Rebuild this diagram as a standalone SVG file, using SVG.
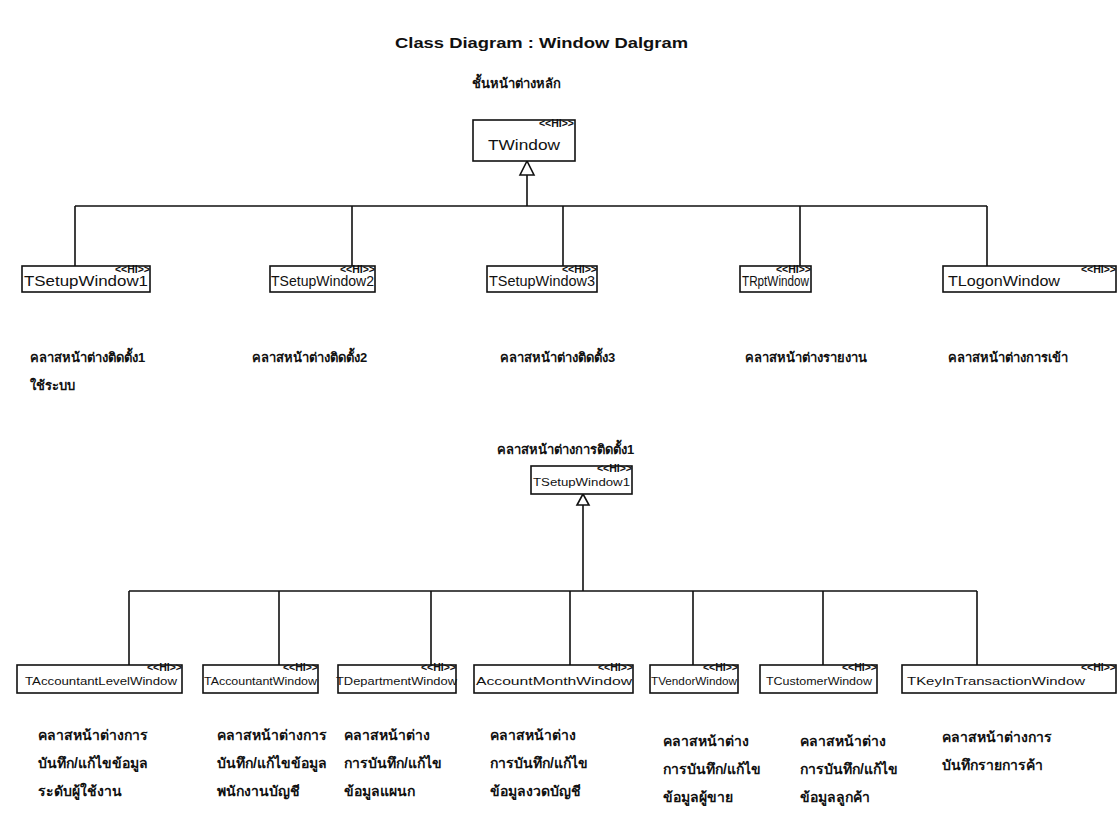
<svg xmlns="http://www.w3.org/2000/svg" width="1118" height="819" viewBox="0 0 1118 819">
<style>
.bg{fill:#ffffff}
.title{font-family:"Liberation Sans",Arial,sans-serif;font-weight:bold;font-size:15px;fill:#111}
.th{font-family:"Liberation Sans","Noto Sans","DejaVu Sans",sans-serif;font-weight:bold;font-size:13px;fill:#111}
.tb{font-family:"Liberation Sans","Noto Sans","DejaVu Sans",sans-serif;font-weight:bold;font-size:14px;fill:#111}
.box{fill:#ffffff;stroke:#111;stroke-width:1.6}
.cn{font-family:"Liberation Sans",Arial,sans-serif;font-size:14px;fill:#111}
.cs{font-family:"Liberation Sans",Arial,sans-serif;font-size:10.5px;fill:#111}
.st{font-family:"Liberation Sans",Arial,sans-serif;font-weight:bold;font-size:10.5px;fill:#111}
.ln{fill:none;stroke:#111;stroke-width:1.6}
.tri{fill:#ffffff;stroke:#111;stroke-width:1.6}
</style>
<rect class="bg" x="0" y="0" width="1118" height="819"/>
<text class="title" x="395" y="48" textLength="293" lengthAdjust="spacingAndGlyphs">Class Diagram : Window Dalgram</text>
<text class="th" x="472" y="88">ชั้นหน้าต่างหลัก</text>
<text class="th" x="497" y="454">คลาสหน้าต่างการติดตั้ง1</text>
<g id="connectors">
<path class="ln" d="M527 175 V206 M75 206 H987 M75 206 V266 M352 206 V266 M563 206 V266 M800 206 V266 M987 206 V266"/>
<polygon class="tri" points="527,161 520,175 534,175"/>
<path class="ln" d="M583 505 V591 M129 591 H977 M129 591 V665 M279 591 V665 M431 591 V665 M570 591 V665 M693 591 V665 M823 591 V665 M977 591 V665"/>
<polygon class="tri" points="583,494 577,505 589,505"/>
</g>
<g id="TWindow">
<rect class="box" x="473" y="120" width="102" height="41"/>
<text class="st" x="574" y="127" text-anchor="end">&lt;&lt;HI&gt;&gt;</text>
<text class="cn" x="488" y="150" textLength="72" lengthAdjust="spacingAndGlyphs">TWindow</text>
</g>
<g id="TSetupWindow1">
<rect class="box" x="22" y="266" width="128" height="26"/>
<text class="st" x="150" y="273" text-anchor="end">&lt;&lt;HI&gt;&gt;</text>
<text class="cn" x="24" y="286" textLength="124" lengthAdjust="spacingAndGlyphs">TSetupWindow1</text>
<text class="th" x="30" y="362">คลาสหน้าต่างติดตั้ง1</text>
<text class="th" x="30" y="390">ใช้ระบบ</text>
</g>
<g id="TSetupWindow2">
<rect class="box" x="270" y="266" width="105" height="26"/>
<text class="st" x="375" y="273" text-anchor="end">&lt;&lt;HI&gt;&gt;</text>
<text class="cn" x="271" y="286" textLength="103" lengthAdjust="spacingAndGlyphs">TSetupWindow2</text>
<text class="th" x="252" y="362">คลาสหน้าต่างติดตั้ง2</text>
</g>
<g id="TSetupWindow3">
<rect class="box" x="487" y="266" width="110" height="26"/>
<text class="st" x="597" y="273" text-anchor="end">&lt;&lt;HI&gt;&gt;</text>
<text class="cn" x="489" y="286" textLength="106" lengthAdjust="spacingAndGlyphs">TSetupWindow3</text>
<text class="th" x="500" y="362">คลาสหน้าต่างติดตั้ง3</text>
</g>
<g id="TRptWindow">
<rect class="box" x="740" y="266" width="71" height="26"/>
<text class="st" x="811" y="273" text-anchor="end">&lt;&lt;HI&gt;&gt;</text>
<text class="cn" x="742" y="286" textLength="67" lengthAdjust="spacingAndGlyphs">TRptWindow</text>
<text class="th" x="745" y="362">คลาสหน้าต่างรายงาน</text>
</g>
<g id="TLogonWindow">
<rect class="box" x="943" y="266" width="173" height="26"/>
<text class="st" x="1116" y="273" text-anchor="end">&lt;&lt;HI&gt;&gt;</text>
<text class="cn" x="948" y="286" font-size="15" textLength="112" lengthAdjust="spacingAndGlyphs">TLogonWindow</text>
<text class="th" x="948" y="362">คลาสหน้าต่างการเข้า</text>
</g>
<g id="TSetupWindow1b">
<rect class="box" x="531" y="466" width="101" height="28"/>
<text class="st" x="632" y="472" text-anchor="end">&lt;&lt;HI&gt;&gt;</text>
<text class="cs" x="533" y="486" textLength="97" lengthAdjust="spacingAndGlyphs">TSetupWindow1</text>
</g>
<g id="TAccountantLevelWindow">
<rect class="box" x="17" y="665" width="165" height="28"/>
<text class="st" x="182" y="671" text-anchor="end">&lt;&lt;HI&gt;&gt;</text>
<text class="cs" x="25" y="685" textLength="152" lengthAdjust="spacingAndGlyphs">TAccountantLevelWindow</text>
<text class="tb" x="38" y="740">คลาสหน้าต่างการ</text>
<text class="tb" x="38" y="768">บันทึก/แก้ไขข้อมูล</text>
<text class="tb" x="38" y="796">ระดับผู้ใช้งาน</text>
</g>
<g id="TAccountantWindow">
<rect class="box" x="203" y="665" width="115" height="28"/>
<text class="st" x="318" y="671" text-anchor="end">&lt;&lt;HI&gt;&gt;</text>
<text class="cs" x="204" y="685" textLength="113" lengthAdjust="spacingAndGlyphs">TAccountantWindow</text>
<text class="tb" x="217" y="740">คลาสหน้าต่างการ</text>
<text class="tb" x="217" y="768">บันทึก/แก้ไขข้อมูล</text>
<text class="tb" x="217" y="796">พนักงานบัญชี</text>
</g>
<g id="TDepartmentWindow">
<rect class="box" x="338" y="665" width="118" height="28"/>
<text class="st" x="456" y="671" text-anchor="end">&lt;&lt;HI&gt;&gt;</text>
<text class="cs" x="336" y="685" textLength="121" lengthAdjust="spacingAndGlyphs">TDepartmentWindow</text>
<text class="tb" x="344" y="740">คลาสหน้าต่าง</text>
<text class="tb" x="344" y="768">การบันทึก/แก้ไข</text>
<text class="tb" x="344" y="796">ข้อมูลแผนก</text>
</g>
<g id="TAccountMonthWindow">
<rect class="box" x="474" y="665" width="159" height="28"/>
<text class="st" x="633" y="671" text-anchor="end">&lt;&lt;HI&gt;&gt;</text>
<text class="cs" x="476" y="685" textLength="156" lengthAdjust="spacingAndGlyphs">AccountMonthWindow</text>
<text class="tb" x="490" y="740">คลาสหน้าต่าง</text>
<text class="tb" x="490" y="768">การบันทึก/แก้ไข</text>
<text class="tb" x="490" y="796">ข้อมูลงวดบัญชี</text>
</g>
<g id="TVendorWindow">
<rect class="box" x="650" y="665" width="88" height="28"/>
<text class="st" x="738" y="671" text-anchor="end">&lt;&lt;HI&gt;&gt;</text>
<text class="cs" x="651" y="685" textLength="86" lengthAdjust="spacingAndGlyphs">TVendorWindow</text>
<text class="tb" x="663" y="746">คลาสหน้าต่าง</text>
<text class="tb" x="663" y="774">การบันทึก/แก้ไข</text>
<text class="tb" x="663" y="802">ข้อมูลผู้ขาย</text>
</g>
<g id="TCustomerWindow">
<rect class="box" x="760" y="665" width="117" height="28"/>
<text class="st" x="877" y="671" text-anchor="end">&lt;&lt;HI&gt;&gt;</text>
<text class="cs" x="766" y="685" textLength="106" lengthAdjust="spacingAndGlyphs">TCustomerWindow</text>
<text class="tb" x="800" y="746">คลาสหน้าต่าง</text>
<text class="tb" x="800" y="774">การบันทึก/แก้ไข</text>
<text class="tb" x="800" y="802">ข้อมูลลูกค้า</text>
</g>
<g id="TKeyInTransactionWindow">
<rect class="box" x="902" y="665" width="214" height="28"/>
<text class="st" x="1116" y="671" text-anchor="end">&lt;&lt;HI&gt;&gt;</text>
<text class="cs" x="907" y="685" textLength="178" lengthAdjust="spacingAndGlyphs">TKeyInTransactionWindow</text>
<text class="tb" x="942" y="742">คลาสหน้าต่างการ</text>
<text class="tb" x="942" y="770">บันทึกรายการค้า</text>
</g>
</svg>
